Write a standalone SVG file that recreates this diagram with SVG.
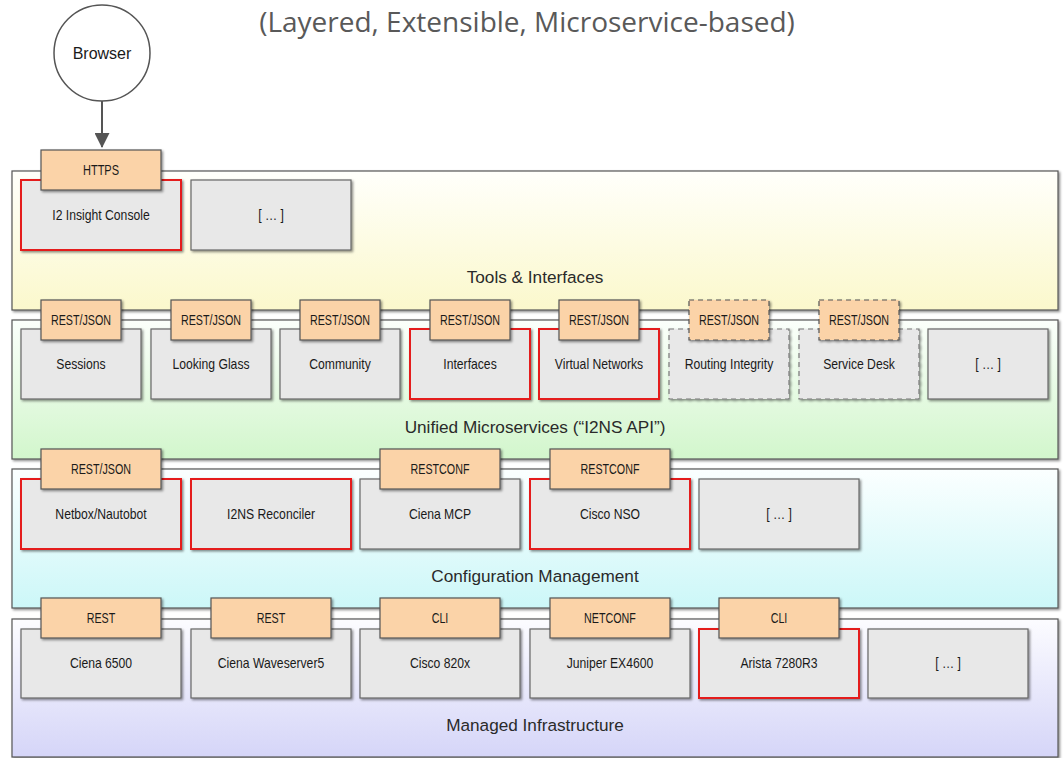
<svg xmlns="http://www.w3.org/2000/svg" width="1063" height="758" viewBox="0 0 1063 758">
<defs>
<linearGradient id="g1" x1="0" y1="0" x2="0" y2="1"><stop offset="0" stop-color="#fffffb"/><stop offset="1" stop-color="#fbf8cc"/></linearGradient>
<linearGradient id="g2" x1="0" y1="0" x2="0" y2="1"><stop offset="0" stop-color="#fbfffb"/><stop offset="1" stop-color="#d2f6cc"/></linearGradient>
<linearGradient id="g3" x1="0" y1="0" x2="0" y2="1"><stop offset="0" stop-color="#fbffff"/><stop offset="1" stop-color="#ccf7f8"/></linearGradient>
<linearGradient id="g4" x1="0" y1="0" x2="0" y2="1"><stop offset="0" stop-color="#fcfcff"/><stop offset="1" stop-color="#d5d5f8"/></linearGradient>
<filter id="sh" x="-5%" y="-5%" width="115%" height="120%"><feDropShadow dx="1.5" dy="1.5" stdDeviation="0.8" flood-color="#000" flood-opacity="0.45"/></filter>
<marker id="arr" markerWidth="15" markerHeight="15" refX="14" refY="7.5" orient="auto" markerUnits="userSpaceOnUse" viewBox="0 0 15 15"><path d="M0,0 L15,7.5 L0,15 z" fill="#555"/></marker>
<style>
.layer{stroke:#555;stroke-width:1.2;filter:url(#sh)}
.node{fill:#e8e8e8;stroke:#666;stroke-width:1.2;filter:url(#sh)}
.red{stroke:#e41a1a;stroke-width:2}
.dash{stroke:#777;stroke-dasharray:5 4}
.tab{fill:#fbd3a8;stroke:#555;stroke-width:1.2;filter:url(#sh)}
.t{font-family:"Liberation Sans","DejaVu Sans",sans-serif;font-size:14.5px;fill:#1a1a1a;text-anchor:middle;dominant-baseline:central}
.lt{font-family:"Liberation Sans","DejaVu Sans",sans-serif;font-size:17.2px;fill:#2a2a2a;text-anchor:middle}
.title{font-family:"Open Sans","Liberation Sans",sans-serif;font-size:28px;fill:#595959;text-anchor:middle}
</style>
</defs>
<rect width="1063" height="758" fill="#fff"/>
<text class="title" x="527" y="32">(Layered, Extensible, Microservice-based)</text>

<g id="layer-tools"><rect class="layer" x="12" y="171" width="1046" height="139" fill="url(#g1)"/><text class="lt" x="535" y="283">Tools &amp; Interfaces</text></g>
<g id="layer-micro"><rect class="layer" x="12" y="320" width="1046" height="139" fill="url(#g2)"/><text class="lt" x="535" y="433">Unified Microservices (“I2NS API”)</text></g>
<g id="layer-config"><rect class="layer" x="12" y="469" width="1046" height="139" fill="url(#g3)"/><text class="lt" x="535" y="582">Configuration Management</text></g>
<g id="layer-infra"><rect class="layer" x="12" y="619" width="1046" height="138" fill="url(#g4)"/><text class="lt" x="535" y="731">Managed Infrastructure</text></g>

<g id="browser"><circle cx="102" cy="53" r="48" fill="#fff" stroke="#555" stroke-width="1.5"/><text class="t" x="102" y="53" style="font-size:16px">Browser</text></g>

<g id="connectors"><line x1="102" y1="101" x2="102" y2="147" stroke="#555" stroke-width="2" marker-end="url(#arr)"/></g>

<!-- Tools layer -->
<g id="n-console"><rect class="node red" x="21" y="180" width="160" height="70"/><text class="t" transform="translate(101 215) scale(.84 1)">I2 Insight Console</text><rect class="tab" x="41" y="150" width="120" height="40"/><text class="t" transform="translate(101 170) scale(.76 1)">HTTPS</text></g>
<g id="n-tools-more"><rect class="node" x="191" y="180" width="160" height="70"/><text class="t" transform="translate(271 215) scale(.84 1)">[ … ]</text></g>

<!-- Microservices layer -->
<g id="n-sessions"><rect class="node" x="21" y="329" width="120" height="70"/><text class="t" transform="translate(81 364) scale(.84 1)">Sessions</text><rect class="tab" x="41" y="300" width="80" height="40"/><text class="t" transform="translate(81 320) scale(.74 1)">REST/JSON</text></g>
<g id="n-looking-glass"><rect class="node" x="151" y="329" width="120" height="70"/><text class="t" transform="translate(211 364) scale(.84 1)">Looking Glass</text><rect class="tab" x="171" y="300" width="80" height="40"/><text class="t" transform="translate(211 320) scale(.74 1)">REST/JSON</text></g>
<g id="n-community"><rect class="node" x="280" y="329" width="120" height="70"/><text class="t" transform="translate(340 364) scale(.84 1)">Community</text><rect class="tab" x="300" y="300" width="80" height="40"/><text class="t" transform="translate(340 320) scale(.74 1)">REST/JSON</text></g>
<g id="n-interfaces"><rect class="node red" x="410" y="329" width="120" height="70"/><text class="t" transform="translate(470 364) scale(.84 1)">Interfaces</text><rect class="tab" x="430" y="300" width="80" height="40"/><text class="t" transform="translate(470 320) scale(.74 1)">REST/JSON</text></g>
<g id="n-virtual-networks"><rect class="node red" x="539" y="329" width="120" height="70"/><text class="t" transform="translate(599 364) scale(.84 1)">Virtual Networks</text><rect class="tab" x="559" y="300" width="80" height="40"/><text class="t" transform="translate(599 320) scale(.74 1)">REST/JSON</text></g>
<g id="n-routing-integrity"><rect class="node dash" x="669" y="329" width="120" height="70"/><text class="t" transform="translate(729 364) scale(.84 1)">Routing Integrity</text><rect class="tab dash" x="689" y="300" width="80" height="40"/><text class="t" transform="translate(729 320) scale(.74 1)">REST/JSON</text></g>
<g id="n-service-desk"><rect class="node dash" x="799" y="329" width="120" height="70"/><text class="t" transform="translate(859 364) scale(.84 1)">Service Desk</text><rect class="tab dash" x="819" y="300" width="80" height="40"/><text class="t" transform="translate(859 320) scale(.74 1)">REST/JSON</text></g>
<g id="n-micro-more"><rect class="node" x="928" y="329" width="120" height="70"/><text class="t" transform="translate(988 364) scale(.84 1)">[ … ]</text></g>

<!-- Configuration layer -->
<g id="n-netbox"><rect class="node red" x="21" y="479" width="160" height="70"/><text class="t" transform="translate(101 514) scale(.84 1)">Netbox/Nautobot</text><rect class="tab" x="41" y="449" width="120" height="40"/><text class="t" transform="translate(101 469) scale(.74 1)">REST/JSON</text></g>
<g id="n-reconciler"><rect class="node red" x="191" y="479" width="160" height="70"/><text class="t" transform="translate(271 514) scale(.84 1)">I2NS Reconciler</text></g>
<g id="n-ciena-mcp"><rect class="node" x="360" y="479" width="160" height="70"/><text class="t" transform="translate(440 514) scale(.84 1)">Ciena MCP</text><rect class="tab" x="380" y="449" width="120" height="40"/><text class="t" transform="translate(440 469) scale(.74 1)">RESTCONF</text></g>
<g id="n-cisco-nso"><rect class="node red" x="530" y="479" width="160" height="70"/><text class="t" transform="translate(610 514) scale(.84 1)">Cisco NSO</text><rect class="tab" x="550" y="449" width="120" height="40"/><text class="t" transform="translate(610 469) scale(.74 1)">RESTCONF</text></g>
<g id="n-config-more"><rect class="node" x="699" y="479" width="160" height="70"/><text class="t" transform="translate(779 514) scale(.84 1)">[ … ]</text></g>

<!-- Infrastructure layer -->
<g id="n-ciena-6500"><rect class="node" x="21" y="629" width="160" height="69"/><text class="t" transform="translate(101 663) scale(.84 1)">Ciena 6500</text><rect class="tab" x="41" y="598" width="120" height="40"/><text class="t" transform="translate(101 618) scale(.74 1)">REST</text></g>
<g id="n-waveserver"><rect class="node" x="191" y="629" width="160" height="69"/><text class="t" transform="translate(271 663) scale(.84 1)">Ciena Waveserver5</text><rect class="tab" x="211" y="598" width="120" height="40"/><text class="t" transform="translate(271 618) scale(.74 1)">REST</text></g>
<g id="n-cisco-820x"><rect class="node" x="360" y="629" width="160" height="69"/><text class="t" transform="translate(440 663) scale(.84 1)">Cisco 820x</text><rect class="tab" x="380" y="598" width="120" height="40"/><text class="t" transform="translate(440 618) scale(.74 1)">CLI</text></g>
<g id="n-juniper"><rect class="node" x="530" y="629" width="160" height="69"/><text class="t" transform="translate(610 663) scale(.84 1)">Juniper EX4600</text><rect class="tab" x="550" y="598" width="120" height="40"/><text class="t" transform="translate(610 618) scale(.74 1)">NETCONF</text></g>
<g id="n-arista"><rect class="node red" x="699" y="629" width="160" height="69"/><text class="t" transform="translate(779 663) scale(.84 1)">Arista 7280R3</text><rect class="tab" x="719" y="598" width="120" height="40"/><text class="t" transform="translate(779 618) scale(.74 1)">CLI</text></g>
<g id="n-infra-more"><rect class="node" x="868" y="629" width="160" height="69"/><text class="t" transform="translate(948 663) scale(.84 1)">[ … ]</text></g>
</svg>
